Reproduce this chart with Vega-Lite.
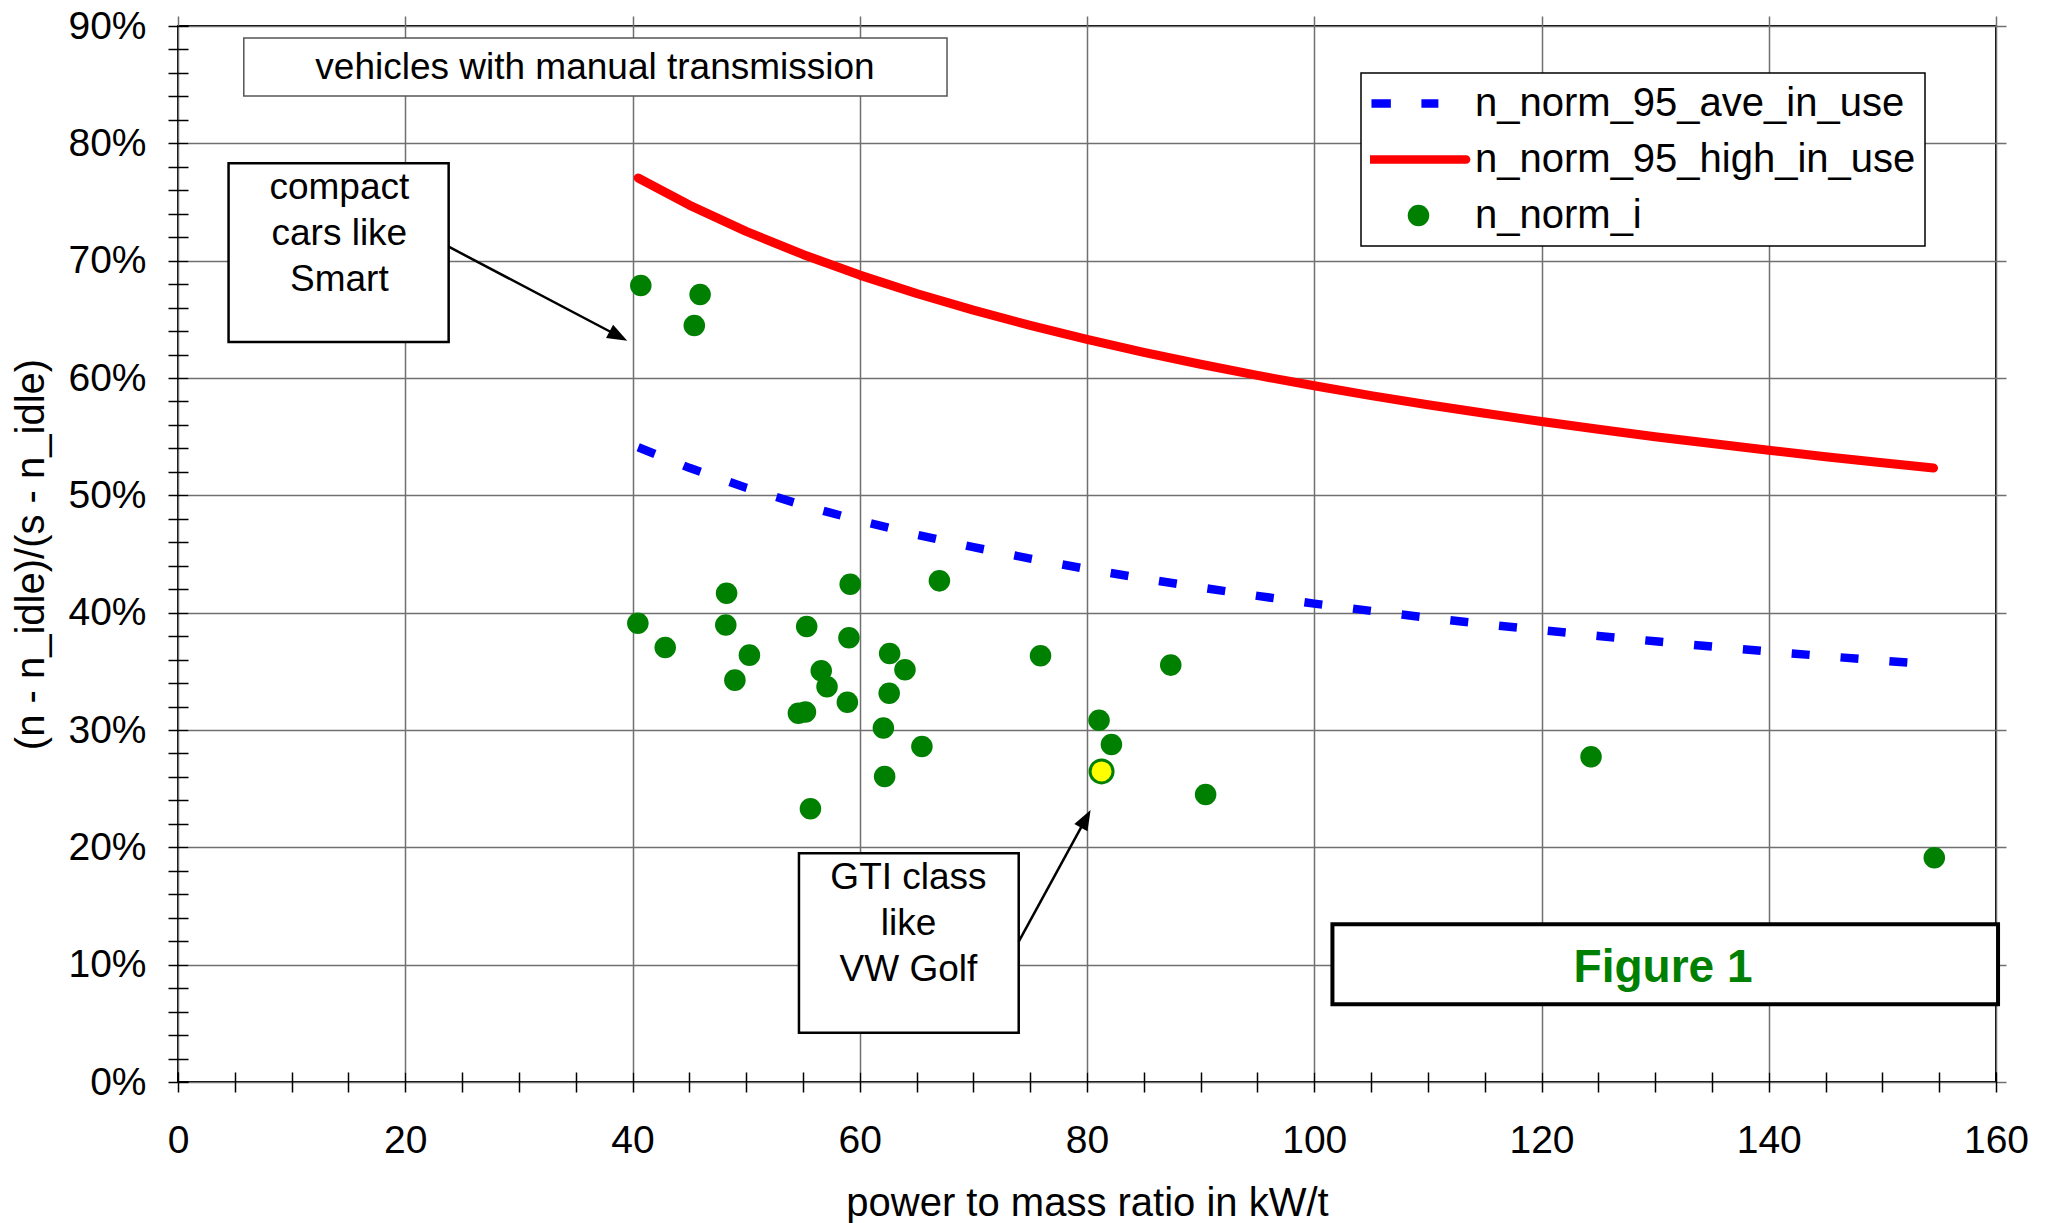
{
  "$schema": "https://vega.github.io/schema/vega-lite/v6.json",
  "autosize": {"type": "none"},
  "width": 1818,
  "height": 1056,
  "padding": {"left": 178, "top": 26, "right": 55, "bottom": 141},
  "background": "white",
  "config": {
    "font": "Liberation Sans",
    "view": {"stroke": "#000000", "strokeWidth": 2},
    "axis": {
      "labelFont": "Liberation Sans",
      "titleFont": "Liberation Sans",
      "labelFontSize": 39,
      "titleFontSize": 40,
      "titleFontWeight": "normal",
      "labelColor": "#000000",
      "titleColor": "#000000",
      "tickColor": "#000000",
      "tickWidth": 1.5,
      "gridColor": "#707070",
      "gridWidth": 1.5,
      "domain": false,
      "labelOverlap": false,
      "labelFlush": false,
      "offset": -10,
      "tickSize": 20
    },
    "legend": {"strokeWidth": 1.5}
  },
  "datasets": {
    "series": [
      {"series": "n_norm_95_high_in_use", "x": 40.5, "y": 77.05},
      {"series": "n_norm_95_high_in_use", "x": 45, "y": 74.74},
      {"series": "n_norm_95_high_in_use", "x": 50, "y": 72.49},
      {"series": "n_norm_95_high_in_use", "x": 55, "y": 70.53},
      {"series": "n_norm_95_high_in_use", "x": 60, "y": 68.77},
      {"series": "n_norm_95_high_in_use", "x": 65, "y": 67.20},
      {"series": "n_norm_95_high_in_use", "x": 70, "y": 65.78},
      {"series": "n_norm_95_high_in_use", "x": 75, "y": 64.48},
      {"series": "n_norm_95_high_in_use", "x": 80, "y": 63.29},
      {"series": "n_norm_95_high_in_use", "x": 85, "y": 62.19},
      {"series": "n_norm_95_high_in_use", "x": 90, "y": 61.17},
      {"series": "n_norm_95_high_in_use", "x": 95, "y": 60.22},
      {"series": "n_norm_95_high_in_use", "x": 100, "y": 59.34},
      {"series": "n_norm_95_high_in_use", "x": 105, "y": 58.50},
      {"series": "n_norm_95_high_in_use", "x": 110, "y": 57.72},
      {"series": "n_norm_95_high_in_use", "x": 115, "y": 56.99},
      {"series": "n_norm_95_high_in_use", "x": 120, "y": 56.29},
      {"series": "n_norm_95_high_in_use", "x": 125, "y": 55.63},
      {"series": "n_norm_95_high_in_use", "x": 130, "y": 55.00},
      {"series": "n_norm_95_high_in_use", "x": 135, "y": 54.41},
      {"series": "n_norm_95_high_in_use", "x": 140, "y": 53.84},
      {"series": "n_norm_95_high_in_use", "x": 145, "y": 53.29},
      {"series": "n_norm_95_high_in_use", "x": 150, "y": 52.77},
      {"series": "n_norm_95_high_in_use", "x": 154.5, "y": 52.33},
      {"series": "n_norm_95_ave_in_use", "x": 40.5, "y": 54.10},
      {"series": "n_norm_95_ave_in_use", "x": 45, "y": 52.34},
      {"series": "n_norm_95_ave_in_use", "x": 50, "y": 50.65},
      {"series": "n_norm_95_ave_in_use", "x": 55, "y": 49.16},
      {"series": "n_norm_95_ave_in_use", "x": 60, "y": 47.84},
      {"series": "n_norm_95_ave_in_use", "x": 65, "y": 46.65},
      {"series": "n_norm_95_ave_in_use", "x": 70, "y": 45.58},
      {"series": "n_norm_95_ave_in_use", "x": 75, "y": 44.61},
      {"series": "n_norm_95_ave_in_use", "x": 80, "y": 43.72},
      {"series": "n_norm_95_ave_in_use", "x": 85, "y": 42.90},
      {"series": "n_norm_95_ave_in_use", "x": 90, "y": 42.14},
      {"series": "n_norm_95_ave_in_use", "x": 95, "y": 41.43},
      {"series": "n_norm_95_ave_in_use", "x": 100, "y": 40.77},
      {"series": "n_norm_95_ave_in_use", "x": 105, "y": 40.15},
      {"series": "n_norm_95_ave_in_use", "x": 110, "y": 39.57},
      {"series": "n_norm_95_ave_in_use", "x": 115, "y": 39.02},
      {"series": "n_norm_95_ave_in_use", "x": 120, "y": 38.51},
      {"series": "n_norm_95_ave_in_use", "x": 125, "y": 38.02},
      {"series": "n_norm_95_ave_in_use", "x": 130, "y": 37.56},
      {"series": "n_norm_95_ave_in_use", "x": 135, "y": 37.11},
      {"series": "n_norm_95_ave_in_use", "x": 140, "y": 36.69},
      {"series": "n_norm_95_ave_in_use", "x": 145, "y": 36.29},
      {"series": "n_norm_95_ave_in_use", "x": 150, "y": 35.91},
      {"series": "n_norm_95_ave_in_use", "x": 154.5, "y": 35.58},
      {"series": "n_norm_i", "x": 40.73, "y": 67.88},
      {"series": "n_norm_i", "x": 45.95, "y": 67.11},
      {"series": "n_norm_i", "x": 45.44, "y": 64.48},
      {"series": "n_norm_i", "x": 40.47, "y": 39.09},
      {"series": "n_norm_i", "x": 42.88, "y": 37.04},
      {"series": "n_norm_i", "x": 48.28, "y": 41.65},
      {"series": "n_norm_i", "x": 48.21, "y": 38.95},
      {"series": "n_norm_i", "x": 50.29, "y": 36.38},
      {"series": "n_norm_i", "x": 49.01, "y": 34.25},
      {"series": "n_norm_i", "x": 55.33, "y": 38.83},
      {"series": "n_norm_i", "x": 56.61, "y": 35.04},
      {"series": "n_norm_i", "x": 57.12, "y": 33.68},
      {"series": "n_norm_i", "x": 54.60, "y": 31.42},
      {"series": "n_norm_i", "x": 55.22, "y": 31.54},
      {"series": "n_norm_i", "x": 55.66, "y": 23.28},
      {"series": "n_norm_i", "x": 59.16, "y": 42.42},
      {"series": "n_norm_i", "x": 59.05, "y": 37.86},
      {"series": "n_norm_i", "x": 58.91, "y": 32.36},
      {"series": "n_norm_i", "x": 62.63, "y": 36.52},
      {"series": "n_norm_i", "x": 63.98, "y": 35.13},
      {"series": "n_norm_i", "x": 62.59, "y": 33.13},
      {"series": "n_norm_i", "x": 62.08, "y": 30.17},
      {"series": "n_norm_i", "x": 65.47, "y": 28.60},
      {"series": "n_norm_i", "x": 62.19, "y": 26.04},
      {"series": "n_norm_i", "x": 67.01, "y": 42.71},
      {"series": "n_norm_i", "x": 75.91, "y": 36.32},
      {"series": "n_norm_i", "x": 81.06, "y": 30.83},
      {"series": "n_norm_i", "x": 82.15, "y": 28.77},
      {"series": "n_norm_i", "x": 81.28, "y": 26.47, "vehicle": "VW Golf"},
      {"series": "n_norm_i", "x": 87.37, "y": 35.53},
      {"series": "n_norm_i", "x": 90.44, "y": 24.50},
      {"series": "n_norm_i", "x": 124.36, "y": 27.72},
      {"series": "n_norm_i", "x": 154.57, "y": 19.12}
    ],
    "boxes": [
      {"name": "title", "x": 5.79, "x2": 67.68, "y": 84.04, "y2": 88.97},
      {"name": "smart", "x": 4.45, "x2": 23.82, "y": 63.07, "y2": 78.30},
      {"name": "gti", "x": 54.65, "x2": 73.99, "y": 4.2, "y2": 19.49},
      {"name": "figure", "x": 101.6, "x2": 160.18, "y": 6.62, "y2": 13.44}
    ],
    "notes": [
      {"name": "title", "text": ["vehicles with manual transmission"], "x": 36.7, "y": 86.4},
      {"name": "smart", "text": ["compact", "cars like", "Smart"], "x": 14.2, "y": 76.17},
      {"name": "gti", "text": ["GTI class", "like", "VW Golf"], "x": 64.29, "y": 17.39},
      {"name": "figure", "text": ["Figure 1"], "x": 130.7, "y": 9.72}
    ],
    "arrows": [
      {"name": "smart", "x": 23.82, "y": 71.19, "x2": 38.76, "y2": 63.58},
      {"name": "gti", "x": 73.99, "y": 11.96, "x2": 79.89, "y2": 22.43}
    ]
  },
  "encoding": {
    "x": {
      "field": "x",
      "type": "quantitative",
      "scale": {"domain": [0, 160], "nice": false, "zero": false},
      "axis": {
        "title": "power to mass ratio in kW/t",
        "values": [0,5,10,15,20,25,30,35,40,45,50,55,60,65,70,75,80,85,90,95,100,105,110,115,120,125,130,135,140,145,150,155,160],
        "labelExpr": "datum.value % 20 === 0 ? datum.label : ''",
        "grid": true,
        "gridOpacity": {"condition": {"test": "datum.value % 20 === 0", "value": 1}, "value": 0},
        "labelPadding": 29,
        "titlePadding": 23
      }
    },
    "y": {
      "field": "y",
      "type": "quantitative",
      "scale": {"domain": [0, 90], "nice": false, "zero": false},
      "axis": {
        "title": "(n - n_idle)/(s - n_idle)",
        "values": [0,2,4,6,8,10,12,14,16,18,20,22,24,26,28,30,32,34,36,38,40,42,44,46,48,50,52,54,56,58,60,62,64,66,68,70,72,74,76,78,80,82,84,86,88,90],
        "labelExpr": "datum.value % 10 === 0 ? datum.value + '%' : ''",
        "grid": true,
        "gridOpacity": {"condition": {"test": "datum.value % 10 === 0", "value": 1}, "value": 0},
        "labelPadding": 22,
        "titlePadding": 16
      }
    }
  },
  "layer": [
    {
      "data": {"name": "boxes"},
      "transform": [{"filter": "datum.name === 'title'"}],
      "mark": {"type": "rect", "fill": "white", "stroke": "#555555", "strokeWidth": 1.5},
      "encoding": {"x2": {"field": "x2"}, "y2": {"field": "y2"}}
    },
    {
      "data": {"name": "boxes"},
      "transform": [{"filter": "datum.name === 'smart' || datum.name === 'gti'"}],
      "mark": {"type": "rect", "fill": "white", "stroke": "#000000", "strokeWidth": 2.5},
      "encoding": {"x2": {"field": "x2"}, "y2": {"field": "y2"}}
    },
    {
      "data": {"name": "boxes"},
      "transform": [{"filter": "datum.name === 'figure'"}],
      "mark": {"type": "rect", "fill": "white", "stroke": "#000000", "strokeWidth": 4},
      "encoding": {"x2": {"field": "x2"}, "y2": {"field": "y2"}}
    },
    {
      "data": {"name": "series"},
      "transform": [{"filter": "datum.series === 'n_norm_95_ave_in_use'"}],
      "mark": {"type": "line", "stroke": "#0000ff", "strokeWidth": 8.5, "strokeDash": [18, 31], "strokeCap": "butt"},
      "encoding": {"order": {"field": "x", "type": "quantitative"}}
    },
    {
      "data": {"name": "series"},
      "transform": [{"filter": "datum.series === 'n_norm_95_high_in_use'"}],
      "mark": {"type": "line", "stroke": "#ff0000", "strokeWidth": 9, "strokeCap": "round", "strokeJoin": "round"},
      "encoding": {"order": {"field": "x", "type": "quantitative"}}
    },
    {
      "data": {"name": "series"},
      "transform": [{"filter": "datum.series === 'n_norm_i'"}],
      "mark": {"type": "point", "filled": true, "opacity": 1, "size": 9409, "strokeWidth": 0},
      "encoding": {
        "color": {
          "field": "series",
          "type": "nominal",
          "scale": {
            "domain": ["n_norm_95_ave_in_use", "n_norm_95_high_in_use", "n_norm_i"],
            "range": ["#0000ff", "#ff0000", "#008000"]
          },
          "legend": {
            "title": null,
            "orient": "none",
            "legendX": 1183,
            "legendY": 47,
            "padding": 9,
            "fillColor": "white",
            "strokeColor": "#000000",
            "labelFont": "Liberation Sans",
            "labelFontSize": 40,
            "labelColor": "#000000",
            "labelOffset": 8,
            "symbolSize": 9409,
            "symbolStrokeWidth": 0,
            "symbolOpacity": 1,
            "clipHeight": 43,
            "rowPadding": 13,
            "labelLimit": 600
          }
        },
        "shape": {
          "field": "series",
          "type": "nominal",
          "scale": {
            "domain": ["n_norm_95_ave_in_use", "n_norm_95_high_in_use", "n_norm_i"],
            "range": [
              "M-0.97,-0.086H-0.57V0.086H-0.97Z M0.06,-0.086H0.41V0.086H0.06Z",
              "M-0.98,-0.09H0.98A0.09,0.09 0 0 1 0.98,0.09H-0.98A0.09,0.09 0 0 1 -0.98,-0.09Z",
              "M-0.222,0A0.222,0.222 0 1 0 0.222,0A0.222,0.222 0 1 0 -0.222,0Z"
            ]
          }
        }
      }
    },
    {
      "data": {"name": "series"},
      "transform": [{"filter": "datum.vehicle === 'VW Golf'"}],
      "mark": {"type": "point", "shape": "circle", "filled": true, "fill": "#ffff00", "stroke": "#008000", "strokeWidth": 3, "opacity": 1, "size": 529}
    },
    {
      "data": {"name": "arrows"},
      "mark": {"type": "rule", "color": "#000000", "strokeWidth": 2.5},
      "encoding": {"x2": {"field": "x2"}, "y2": {"field": "y2"}}
    },
    {
      "data": {"name": "arrows"},
      "transform": [{"filter": "datum.name === 'smart'"}],
      "mark": {"type": "point", "shape": "M0,-1L0.75,1L-0.75,1Z", "filled": true, "fill": "#000000", "opacity": 1, "size": 400, "angle": 118, "strokeWidth": 0},
      "encoding": {"x": {"field": "x2", "type": "quantitative"}, "y": {"field": "y2", "type": "quantitative"}}
    },
    {
      "data": {"name": "arrows"},
      "transform": [{"filter": "datum.name === 'gti'"}],
      "mark": {"type": "point", "shape": "M0,-1L0.75,1L-0.75,1Z", "filled": true, "fill": "#000000", "opacity": 1, "size": 400, "angle": 29, "strokeWidth": 0},
      "encoding": {"x": {"field": "x2", "type": "quantitative"}, "y": {"field": "y2", "type": "quantitative"}}
    },
    {
      "data": {"name": "notes"},
      "transform": [{"filter": "datum.name !== 'figure'"}],
      "mark": {"type": "text", "font": "Liberation Sans", "fontSize": 37, "color": "#000000", "align": "center", "baseline": "middle", "lineHeight": 46},
      "encoding": {"text": {"field": "text"}}
    },
    {
      "data": {"name": "notes"},
      "transform": [{"filter": "datum.name === 'figure'"}],
      "mark": {"type": "text", "font": "Liberation Sans", "fontSize": 46, "fontWeight": "bold", "color": "#008000", "align": "center", "baseline": "middle"},
      "encoding": {"text": {"field": "text"}}
    }
  ]
}
